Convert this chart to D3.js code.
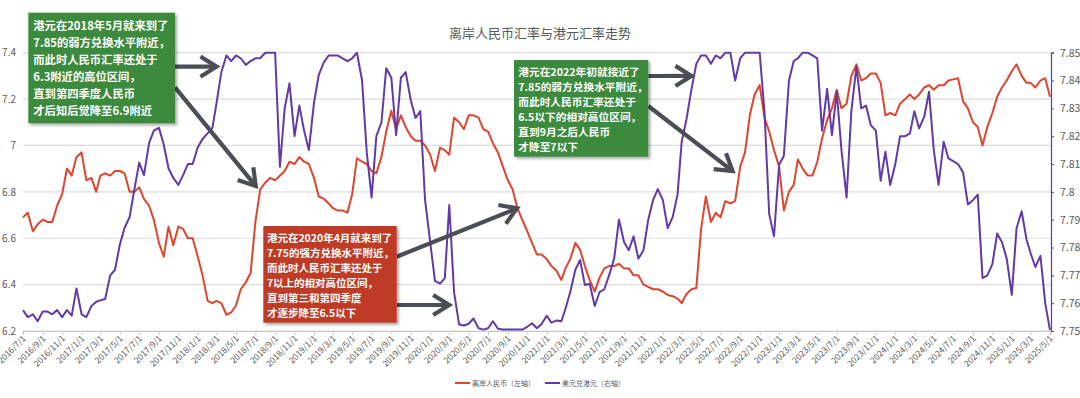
<!DOCTYPE html>
<html>
<head>
<meta charset="utf-8">
<script src="https://cdn.jsdelivr.net/npm/d3@7"></script>
<style>
  html, body { margin: 0; padding: 0; background: #ffffff; }
  svg { display: block; font-family: "Noto Sans CJK SC", "Noto Sans", sans-serif; }
</style>
</head>
<body>
<svg id="chart" width="1080" height="398"></svg>
<script>
// ---------------- DATA ----------------
const title = "离岸人民币汇率与港元汇率走势";
const seriesNames = ["离岸人民币（左轴）", "美元兑港元（右轴）"];

// semi-monthly observation dates (1st and 16th of each month), 2016/7/1 .. 2025/5/1
const startMonth = new Date(2016, 6, 1);
const endMonth = new Date(2025, 4, 1);
const dates = [];
d3.timeMonth.range(startMonth, d3.timeDay.offset(endMonth, 1)).forEach(m => {
  dates.push(m);
  if (m < endMonth) dates.push(new Date(m.getFullYear(), m.getMonth(), 16));
});

// Offshore RMB (USD/CNH), left axis
const cnh = [
  6.69,6.71, 6.63,6.66, 6.68,6.67, 6.67,6.74, 6.79,6.90, 6.87,6.95,
  6.97,6.85, 6.86,6.80, 6.87,6.88, 6.87,6.89, 6.89,6.88, 6.80,6.80, 6.82,6.77, 6.74,6.68, 6.58,6.52, 6.65,6.57, 6.65,6.64, 6.60,6.60,
  6.52,6.44, 6.33,6.32, 6.33,6.32, 6.27,6.28, 6.31,6.38, 6.41,6.45, 6.67,6.81, 6.84,6.86, 6.85,6.87, 6.89,6.93, 6.92,6.95, 6.93,6.92,
  6.86,6.78, 6.77,6.75, 6.73,6.72, 6.72,6.71, 6.79,6.945, 6.93,6.92, 6.89,6.88, 6.95,7.06, 7.15,7.07, 7.13,7.08, 7.04,7.02, 7.02,7.00,
  6.96,6.89, 6.99,6.98, 6.96,7.12, 7.10,7.07, 7.13,7.13, 7.12,7.07, 7.06,7.01, 6.97,6.91, 6.85,6.81, 6.73,6.68, 6.63,6.58, 6.53,6.53,
  6.51,6.48, 6.46,6.42, 6.47,6.51, 6.58,6.55, 6.48,6.42, 6.37,6.43, 6.47,6.48, 6.48,6.49, 6.47,6.47, 6.44,6.44, 6.40,6.39, 6.38,6.38,
  6.37,6.355, 6.35,6.34, 6.32,6.36, 6.38,6.385, 6.64,6.78, 6.67,6.71, 6.69,6.76, 6.75,6.76, 6.91,6.97, 7.13,7.22, 7.26,7.12, 7.06,6.98,
  6.91,6.72, 6.80,6.83, 6.94,6.90, 6.87,6.87, 6.93,7.03, 7.11,7.16, 7.24,7.16, 7.18,7.30, 7.35,7.28, 7.29,7.31, 7.31,7.27, 7.13,7.14,
  7.13,7.18, 7.20,7.22, 7.20,7.22, 7.25,7.26, 7.24,7.26, 7.26,7.28, 7.285,7.29, 7.19,7.16, 7.10,7.08, 7.00,7.08, 7.14,7.21, 7.25,7.28,
  7.32,7.35, 7.30,7.27, 7.27,7.25, 7.28,7.29, 7.21
];

// USD/HKD, right axis
const hkd = [
  7.7575,7.755, 7.756,7.7535, 7.757,7.757, 7.756,7.7575, 7.755,7.7575, 7.7555,7.7653,
  7.756,7.755, 7.759,7.7605, 7.761,7.7615, 7.770,7.772, 7.781,7.787, 7.791,7.801, 7.8105,7.806, 7.8175,7.822, 7.823,7.817, 7.8085,7.805, 7.8025,7.806, 7.810,7.810,
  7.816,7.819, 7.821,7.823, 7.832,7.843, 7.849,7.847, 7.849,7.848, 7.8456,7.847, 7.848,7.848, 7.85,7.85, 7.85,7.809, 7.83,7.839, 7.82,7.831, 7.822,7.815,
  7.832,7.842, 7.8465,7.849, 7.849,7.849, 7.848,7.847, 7.848,7.85, 7.840,7.814, 7.798,7.820, 7.825,7.8444, 7.841,7.8204, 7.841,7.843, 7.833,7.8265, 7.829,7.797,
  7.782,7.768, 7.767,7.769, 7.7953,7.764, 7.7523,7.752, 7.7526,7.7545, 7.751,7.7505, 7.751,7.7535, 7.7508,7.7505, 7.7505,7.7505, 7.7505,7.7505, 7.7515,7.7528, 7.751,7.7525,
  7.7555,7.753, 7.7538,7.7535, 7.758,7.764, 7.772,7.7755, 7.7665,7.767, 7.759,7.764, 7.765,7.770, 7.776,7.790, 7.782,7.779, 7.784,7.776, 7.779,7.790, 7.797,7.801,
  7.797,7.787, 7.791,7.799, 7.818,7.826, 7.837,7.846, 7.849,7.849, 7.846,7.849, 7.848,7.85, 7.85,7.840, 7.848,7.85, 7.85,7.85, 7.85,7.829, 7.792,7.784,
  7.8097,7.813, 7.840,7.847, 7.848,7.85, 7.85,7.849, 7.848,7.822, 7.837,7.8204, 7.836,7.815, 7.798,7.829, 7.845,7.830, 7.831,7.824, 7.822,7.804, 7.8144,7.8025,
  7.810,7.820, 7.820,7.821, 7.829,7.8228, 7.827,7.836, 7.815,7.8025, 7.818,7.812, 7.811,7.810, 7.807,7.7955, 7.797,7.799, 7.769,7.770, 7.774,7.785, 7.782,7.776,
  7.763,7.787, 7.793,7.783, 7.778,7.773, 7.777,7.760, 7.7503
];

const leftTicks = [6.2, 6.4, 6.6, 6.8, 7, 7.2, 7.4];
const rightTicks = [7.75, 7.76, 7.77, 7.78, 7.79, 7.8, 7.81, 7.82, 7.83, 7.84, 7.85];

// annotations (text + where the arrows point in data space)
const notes = [
  { lines: ["港元在2018年5月就来到了", "7.85的弱方兑换水平附近，", "而此时人民币汇率还处于", "6.3附近的高位区间，", "直到第四季度人民币", "才后知后觉降至6.9附近"],
    box: [28.3, 12.7, 146.7, 110.6], fill: "#3b8a3e", fs: 11.3, lh: 17, pad: 5, first: 30,
    arrows: [ { from: [175, 66.7], to: [new Date(2018, 2, 1), 7.34] },
              { from: [175, 87.3], to: [new Date(2018, 6, 2), 6.825] } ] },
  { lines: ["港元在2020年4月就来到了", "7.75的强方兑换水平附近，", "而此时人民币汇率还处于", "7以上的相对高位区间，", "直到第三和第四季度", "才逐步降至6.5以下"],
    box: [263.3, 226, 133.4, 96.7], fill: "#c03b26", fs: 10.5, lh: 15, pad: 3.6, first: 242,
    arrows: [ { from: [396.7, 256.7], to: [new Date(2020, 8, 30), 6.729] },
              { from: [396.7, 305], to: [new Date(2020, 2, 1), 6.312] } ] },
  { lines: ["港元在2022年初就接近了", "7.85的弱方兑换水平附近，", "而此时人民币汇率还处于", "6.5以下的相对高位区间，", "直到9月之后人民币", "才降至7以下"],
    box: [514, 60, 134.3, 96.7], fill: "#3b8a3e", fs: 10.7, lh: 15, pad: 4.3, first: 75.5,
    arrows: [ { from: [648.3, 76], to: [new Date(2022, 3, 1), 7.30] },
              { from: [648.3, 106], to: [new Date(2022, 7, 8), 6.89] } ] }
];

// ---------------- CHART ----------------
const plot = { left: 23, right: 1050, top: 52.7, bottom: 331 };
const red = "#e2432d", purple = "#6239a8", grey = "#595959";

const svg = d3.select("#chart");
const defs = svg.append("defs");
const f = defs.append("filter").attr("id", "shadow").attr("x", "-10%").attr("y", "-10%").attr("width", "130%").attr("height", "130%");
f.append("feDropShadow").attr("dx", 2).attr("dy", 2).attr("stdDeviation", 1.6).attr("flood-color", "#000").attr("flood-opacity", 0.35);

const x = d3.scaleTime().domain([startMonth, endMonth]).range([plot.left, plot.right]);
const yL = d3.scaleLinear().domain([6.2, 7.4]).range([plot.bottom, plot.top]);
const yR = d3.scaleLinear().domain([7.75, 7.85]).range([plot.bottom, plot.top]);

// title
svg.append("text").attr("x", 540).attr("y", 37.5).attr("text-anchor", "middle")
  .attr("font-size", 13).attr("fill", grey).text(title);

// gridlines
svg.append("g").selectAll("line").data(leftTicks).join("line")
  .attr("x1", plot.left).attr("x2", plot.right + 1)
  .attr("y1", d => yL(d)).attr("y2", d => yL(d))
  .attr("stroke", "#dcdcdc").attr("stroke-width", 1.2);

// left axis labels (no line)
const gL = svg.append("g").attr("transform", `translate(${plot.left},0)`)
  .call(d3.axisLeft(yL).tickValues(leftTicks).tickSize(0).tickPadding(7).tickFormat(d3.format("~g")));
gL.select(".domain").remove();
gL.selectAll("text").attr("font-size", 10).attr("fill", grey).attr("font-family", "Noto Sans CJK SC");

// right axis
const gR = svg.append("g").attr("transform", `translate(${plot.right + 1},0)`)
  .call(d3.axisRight(yR).tickValues(rightTicks).tickSize(3).tickPadding(6).tickFormat(d3.format("~g")));
gR.select(".domain").attr("stroke", purple).attr("stroke-width", 1.2);
gR.selectAll(".tick line").attr("stroke", purple);
gR.selectAll("text").attr("font-size", 10.5).attr("fill", grey).attr("font-family", "Noto Sans CJK SC");

// bottom axis
const xTicks = d3.timeMonth.range(startMonth, d3.timeDay.offset(endMonth, 1), 2);
const gX = svg.append("g").attr("transform", `translate(0,${plot.bottom})`)
  .call(d3.axisBottom(x).tickValues(xTicks).tickSize(4).tickFormat(d3.timeFormat("%Y/%-m/%-d")));
gX.select(".domain").attr("stroke", "#c8c8c8").attr("stroke-width", 1.2);
gX.selectAll(".tick line").attr("stroke", "#c8c8c8");
gX.selectAll("text").attr("font-size", 8.6).attr("fill", grey).attr("font-family", "Noto Sans CJK SC")
  .attr("text-anchor", "end").attr("dy", null).attr("y", 0)
  .attr("transform", "translate(3,8) rotate(-45)");

// lines
const lineL = d3.line().x((d, i) => x(dates[i])).y(d => yL(d));
const lineR = d3.line().x((d, i) => x(dates[i])).y(d => yR(d));
svg.append("path").datum(cnh).attr("d", lineL).attr("fill", "none")
  .attr("stroke", red).attr("stroke-width", 2).attr("stroke-linejoin", "round");
svg.append("path").datum(hkd).attr("d", lineR).attr("fill", "none")
  .attr("stroke", purple).attr("stroke-width", 2).attr("stroke-linejoin", "round");

// legend
const legend = svg.append("g");
[[455, red, seriesNames[0]], [545, purple, seriesNames[1]]].forEach(([lx, c, t]) => {
  legend.append("line").attr("x1", lx).attr("x2", lx + 15).attr("y1", 383).attr("y2", 383)
    .attr("stroke", c).attr("stroke-width", 2);
  legend.append("text").attr("x", lx + 17).attr("y", 385.5).attr("font-size", 7).attr("fill", grey).text(t);
});

// annotations
const ann = svg.append("g");
notes.forEach(n => {
  const [bx, by, bw, bh] = n.box;
  n.arrows.forEach(a => {
    const [x0, y0] = a.from;
    const x1 = x(a.to[0]), y1 = yL(a.to[1]);
    const ang = Math.atan2(y1 - y0, x1 - x0);
    const L = 19, spread = 32 * Math.PI / 180;
    const p1 = [x1 - L * Math.cos(ang - spread), y1 - L * Math.sin(ang - spread)];
    const p2 = [x1 - L * Math.cos(ang + spread), y1 - L * Math.sin(ang + spread)];
    const g = ann.append("g").attr("stroke", "#4b4f55").attr("stroke-width", 4.2).attr("fill", "none");
    g.append("line").attr("x1", x0).attr("y1", y0).attr("x2", x1 - 1.5 * Math.cos(ang)).attr("y2", y1 - 1.5 * Math.sin(ang));
    g.append("path").attr("d", `M${p1[0]},${p1[1]}L${x1},${y1}L${p2[0]},${p2[1]}`).attr("stroke-linejoin", "miter");
  });
  ann.append("rect").attr("x", bx).attr("y", by).attr("width", bw).attr("height", bh)
    .attr("fill", n.fill).attr("filter", "url(#shadow)");
  const t = ann.append("text").attr("font-size", n.fs).attr("font-weight", "bold").attr("fill", "#ffffff");
  n.lines.forEach((s, i) => {
    t.append("tspan").attr("x", bx + n.pad).attr("y", n.first + i * n.lh).text(s);
  });
});
</script>
</body>
</html>
